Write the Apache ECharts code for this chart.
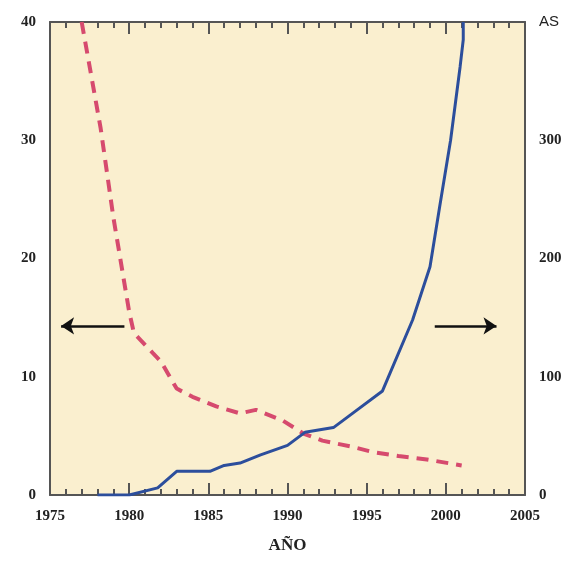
<!DOCTYPE html>
<html>
<head>
<meta charset="utf-8">
<script src="https://cdn.jsdelivr.net/npm/echarts@6/dist/echarts.min.js"></script>
<style>
  html, body { margin: 0; padding: 0; background: #fff; }
  #main { width: 575px; height: 566px; }
</style>
</head>
<body>
<div id="main"></div>
<script>
// datos
var yearTicks = [1975, 1980, 1985, 1990, 1995, 2000, 2005];
var leftTicks = [0, 10, 20, 30, 40];
var rightTicks = [0, 100, 200, 300, 400];

// curva roja (eje izquierdo)
var redYears = [1977, 1978.2, 1979, 1980, 1980.3, 1981.5, 1982, 1983, 1984, 1985.5, 1987, 1988, 1989.7, 1991, 1992.2, 1994, 1995.5, 1997, 1998.8, 2001];
var redValues = [40, 31, 23.5, 15.5, 13.7, 12, 11.3, 9, 8.3, 7.5, 6.9, 7.2, 6.3, 5.2, 4.6, 4.1, 3.6, 3.3, 3.0, 2.5];

// curva azul (eje derecho, AS)
var blueYears = [1978, 1980, 1981.8, 1983, 1985.1, 1986, 1987, 1988.3, 1990, 1991.1, 1992.9, 1994, 1996, 1997.9, 1999, 1999.6, 2000.3, 2000.9, 2001.1, 2001.1];
var blueValues = [0, 0, 6, 20, 20, 25, 27, 34, 42, 53, 57, 68, 88, 148, 193, 243, 300, 362, 385, 400];

var chart = echarts.init(document.getElementById('main'), null, {renderer: 'canvas'});

var labelFont = {
  fontFamily: 'Liberation Serif',
  fontWeight: 'bold',
  fontSize: 15,
  color: '#222'
};
var axisColor = '#555';

function pairs(xs, ys) {
  return xs.map(function (x, i) { return [x, ys[i]]; });
}

var option = {
  backgroundColor: '#fff',
  animation: false,
  grid: {
    left: 50,
    right: 50,
    top: 22,
    bottom: 71,
    show: true,
    backgroundColor: '#FAEFCF',
    borderWidth: 0
  },
  xAxis: [
    {
      type: 'value',
      min: 1975,
      max: 2005,
      interval: 5,
      position: 'bottom',
      name: 'AÑO',
      nameLocation: 'middle',
      nameGap: 42,
      nameTextStyle: {
        fontFamily: 'Liberation Serif',
        fontWeight: 'bold',
        fontSize: 17,
        color: '#222'
      },
      axisLine: { onZero: false, lineStyle: { color: axisColor, width: 2 } },
      axisTick: { inside: true, length: 12, lineStyle: { color: axisColor, width: 2 } },
      minorTick: { show: true, splitNumber: 5, length: 6, lineStyle: { color: axisColor, width: 2 } },
      axisLabel: Object.assign({
        margin: 14,
        formatter: function (v) { return String(v); }
      }, labelFont),
      splitLine: { show: false }
    },
    {
      type: 'value',
      min: 1975,
      max: 2005,
      interval: 5,
      position: 'top',
      axisLine: { onZero: false, lineStyle: { color: axisColor, width: 2 } },
      axisTick: { inside: true, length: 12, lineStyle: { color: axisColor, width: 2 } },
      minorTick: { show: true, splitNumber: 5, length: 6, lineStyle: { color: axisColor, width: 2 } },
      axisLabel: { show: false },
      splitLine: { show: false }
    }
  ],
  yAxis: [
    {
      type: 'value',
      min: 0,
      max: 40,
      interval: 10,
      position: 'left',
      axisLine: { show: true, onZero: false, lineStyle: { color: axisColor, width: 2 } },
      axisTick: { show: false },
      axisLabel: Object.assign({ margin: 14 }, labelFont),
      splitLine: { show: false }
    },
    {
      type: 'value',
      min: 0,
      max: 400,
      interval: 100,
      position: 'right',
      axisLine: { show: true, onZero: false, lineStyle: { color: axisColor, width: 2 } },
      axisTick: { show: false },
      axisLabel: Object.assign({
        margin: 14,
        formatter: function (v) { return v === 400 ? '{as|AS}' : String(v); },
        rich: {
          as: { fontFamily: 'Liberation Sans', fontWeight: 'normal', fontSize: 15, color: '#222' }
        }
      }, labelFont),
      splitLine: { show: false }
    }
  ],
  series: [
    {
      name: 'rojo',
      type: 'line',
      xAxisIndex: 0,
      yAxisIndex: 0,
      data: pairs(redYears, redValues),
      showSymbol: false,
      lineStyle: { color: '#D64A6E', width: 4, type: [12, 8] },
      markLine: {
        silent: true,
        symbol: ['none', 'arrow'],
        symbolSize: [13, 13],
        label: { show: false },
        lineStyle: { color: '#111', width: 2.5, type: 'solid' },
        data: [[{ coord: [1979.7, 14.3] }, { coord: [1975.7, 14.3] }]]
      }
    },
    {
      name: 'azul',
      type: 'line',
      xAxisIndex: 0,
      yAxisIndex: 1,
      data: pairs(blueYears, blueValues),
      showSymbol: false,
      lineStyle: { color: '#2C4E9C', width: 3 },
      markLine: {
        silent: true,
        symbol: ['none', 'arrow'],
        symbolSize: [13, 13],
        label: { show: false },
        lineStyle: { color: '#111', width: 2.5, type: 'solid' },
        data: [[{ coord: [1999.3, 143] }, { coord: [2003.2, 143] }]]
      }
    }
  ]
};

chart.setOption(option);
</script>
</body>
</html>
